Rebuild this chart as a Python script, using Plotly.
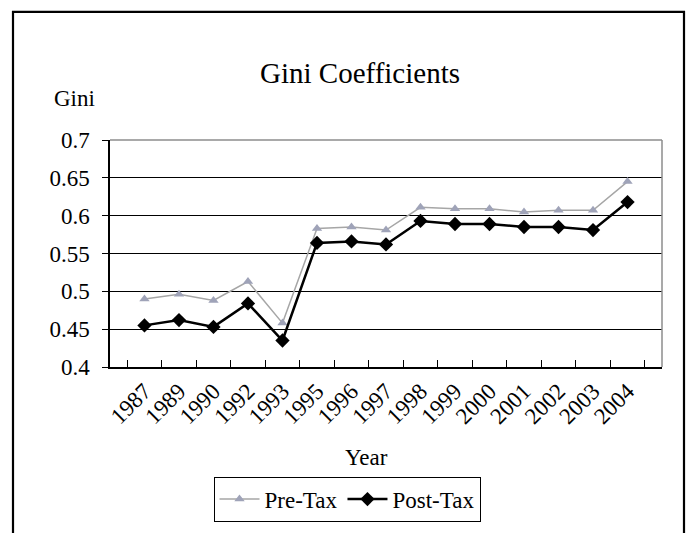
import plotly.graph_objects as go

years = ["1987", "1989", "1990", "1992", "1993", "1995", "1996", "1997",
         "1998", "1999", "2000", "2001", "2002", "2003", "2004"]
pre_tax = [0.490, 0.496, 0.488, 0.513, 0.458, 0.583, 0.585, 0.581,
           0.611, 0.609, 0.609, 0.605, 0.607, 0.607, 0.645]
post_tax = [0.455, 0.462, 0.453, 0.484, 0.435, 0.564, 0.566, 0.562,
            0.593, 0.589, 0.589, 0.585, 0.585, 0.581, 0.618]
y_ticks = [0.4, 0.45, 0.5, 0.55, 0.6, 0.65, 0.7]
y_tick_text = ["0.4", "0.45", "0.5", "0.55", "0.6", "0.65", "0.7"]

FONT = "Liberation Serif"
W, H = 688, 533
L, R, T, B = 110, 26, 140, 161
PW, PH = W - L - R, H - T - B

def px(x):
    return (x - L) / PW

def py(y):
    return (H - B - y) / PH

fig = go.Figure()
fig.add_trace(go.Scatter(
    x=years, y=pre_tax, name="Pre-Tax", mode="lines+markers",
    line=dict(color="#a6a6a6", width=1.5),
    marker=dict(symbol="triangle-up", size=9, color="#9fa3b8"),
))
fig.add_trace(go.Scatter(
    x=years, y=post_tax, name="Post-Tax", mode="lines+markers",
    line=dict(color="black", width=2.5),
    marker=dict(symbol="diamond", size=11, color="black"),
))

fig.update_layout(
    width=W, height=H,
    margin=dict(l=L, r=R, t=T, b=B),
    paper_bgcolor="white", plot_bgcolor="white",
    font=dict(family=FONT, size=23, color="black"),
    showlegend=True,
    legend=dict(
        orientation="h", x=px(347), xanchor="center", y=py(507), yanchor="middle",
        bordercolor="black", borderwidth=1, font=dict(family=FONT, size=23),
        itemwidth=40, tracegroupgap=0,
    ),
    xaxis=dict(
        type="category", showline=True, linecolor="black", linewidth=1.5,
        ticks="inside", ticklen=7, tickcolor="black", tickson="boundaries",
        tickangle=-45, showgrid=False, zeroline=False,
        tickfont=dict(family=FONT, size=23),
    ),
    yaxis=dict(
        range=[0.4, 0.7], tickvals=y_ticks, ticktext=y_tick_text,
        showline=True, linecolor="black", linewidth=1.5,
        ticks="outside", ticklen=6, tickcolor="black",
        showgrid=True, gridcolor="black", gridwidth=1, zeroline=False,
        ticklabelstandoff=8, tickfont=dict(family=FONT, size=23),
    ),
    annotations=[
        dict(text="Gini Coefficients", x=px(360), y=py(72), xref="paper", yref="paper",
             showarrow=False, xanchor="center", yanchor="middle",
             font=dict(family=FONT, size=29, color="black")),
        dict(text="Gini", x=px(74), y=py(98), xref="paper", yref="paper",
             showarrow=False, xanchor="center", yanchor="middle",
             font=dict(family=FONT, size=23, color="black")),
        dict(text="Year", x=px(366), y=py(464), xref="paper", yref="paper",
             showarrow=False, xanchor="center", yanchor="middle",
             font=dict(family=FONT, size=23, color="black")),
    ],
    shapes=[
        dict(type="line", xref="paper", yref="paper", x0=0, x1=1, y0=1, y1=1,
             line=dict(color="#8c8c8c", width=1.5)),
        dict(type="line", xref="paper", yref="paper", x0=1, x1=1, y0=0, y1=1,
             line=dict(color="#8c8c8c", width=1.5)),
        dict(type="rect", xref="paper", yref="paper",
             x0=px(13), x1=px(684), y0=py(560), y1=py(9),
             line=dict(color="black", width=2.2), layer="above"),
    ],
)

fig.write_html("out.html")
